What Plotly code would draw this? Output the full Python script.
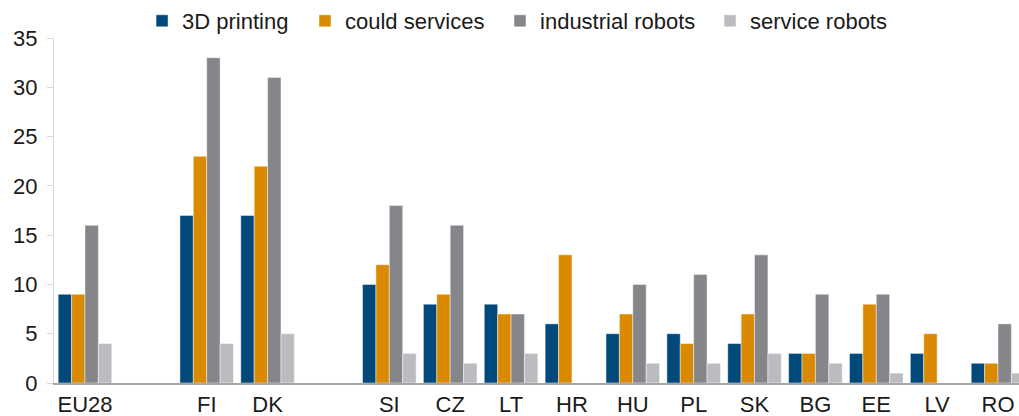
import plotly.graph_objects as go

categories = ["EU28", " ", "FI", "DK", "  ", "SI", "CZ", "LT", "HR", "HU", "PL", "SK", "BG", "EE", "LV", "RO"]
printing_3d = [9, None, 17, 17, None, 10, 8, 8, 6, 5, 5, 4, 3, 3, 3, 2]
cloud_services = [9, None, 23, 22, None, 12, 9, 7, 13, 7, 4, 7, 3, 8, 5, 2]
industrial_robots = [16, None, 33, 31, None, 18, 16, 7, 0, 10, 11, 13, 9, 9, 0, 6]
service_robots = [4, None, 4, 5, None, 3, 2, 3, 0, 2, 2, 3, 2, 1, 0, 1]

series_names = ["3D printing", "could services", "industrial robots", "service robots"]
series_values = [printing_3d, cloud_services, industrial_robots, service_robots]
series_colors = ["#00497A", "#D98A00", "#86858A", "#BBBCC0"]
legend_ids = ["legend", "legend2", "legend3", "legend4"]
legend_x = [0.1394, 0.2993, 0.4907, 0.6968]

font_family = "Liberation Sans, Arial, sans-serif"

fig = go.Figure()
for name, vals, color, lid in zip(series_names, series_values, series_colors, legend_ids):
    fig.add_trace(go.Bar(
        x=categories, y=vals, name=name, legend=lid,
        marker=dict(color=color, line=dict(color="rgba(255,255,255,0.6)", width=0.75)),
    ))

legend_layout = {}
for lid, lx in zip(legend_ids, legend_x):
    legend_layout[lid] = dict(
        orientation="h", xref="container", yref="container",
        x=lx, y=1 - 21 / 416, xanchor="left", yanchor="middle",
        font=dict(size=22, color="#1a1a1a"),
        bgcolor="rgba(0,0,0,0)",
    )

fig.update_layout(
    width=1019, height=416,
    margin=dict(l=54, r=0, t=38, b=33, autoexpand=False),
    barmode="group", bargap=0.12, bargroupgap=0,
    plot_bgcolor="white", paper_bgcolor="white",
    font=dict(family=font_family, size=22, color="#1a1a1a"),
    showlegend=True,
    xaxis=dict(
        type="category", categoryorder="array", categoryarray=categories,
        range=[-0.509, 15.345],
        showline=True, linecolor="#A6A6A6", linewidth=1.5,
        ticks="", showgrid=False, zeroline=False,
        tickfont=dict(size=22),
        ticklabelstandoff=1,
    ),
    yaxis=dict(
        range=[0, 35], dtick=5, tick0=0,
        showline=True, linecolor="#D9D9D9", linewidth=1,
        ticks="outside", ticklen=6, tickcolor="#D9D9D9",
        showgrid=False, zeroline=False,
        tickfont=dict(size=22),
        ticklabelstandoff=5,
    ),
    **legend_layout,
)

fig.write_html(
    "out.html",
    config={"displayModeBar": False},
    post_script="document.body.style.margin='0';document.body.style.padding='0';document.body.style.overflow='hidden';",
)
